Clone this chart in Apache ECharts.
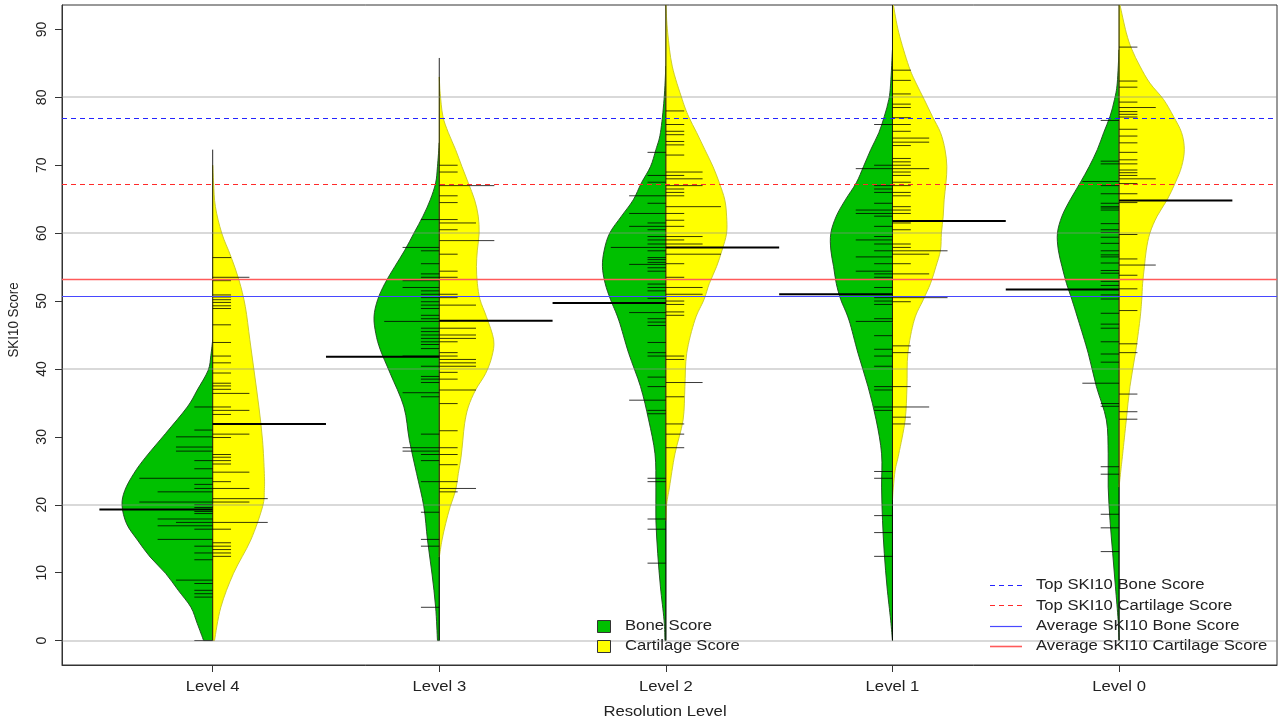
<!DOCTYPE html>
<html>
<head>
<meta charset="utf-8">
<script src="https://cdn.jsdelivr.net/npm/echarts@6/dist/echarts.min.js"></script>
<style>
html, body { margin: 0; padding: 0; background: #ffffff; }
#chart { width: 1279px; height: 724px; }
</style>
</head>
<body>
<div id="chart"></div>
<script>
// Categories and axis ticks
const levels = ['Level 4', 'Level 3', 'Level 2', 'Level 1', 'Level 0'];
const yTicks = [0, 10, 20, 30, 40, 50, 60, 70, 80, 90];
const gridValues = [0, 20, 40, 60, 80];

// Density profiles: [SKI10 score, density relative to the widest bean]
const densBone4 = [[0,0.10],[2.5,0.17],[4.9,0.24],[7.4,0.38],[9.9,0.52],[12.3,0.69],[14.8,0.83],[17.2,0.95],[19.9,1.00],[22.1,0.97],[24.6,0.87],[27.0,0.74],[30.5,0.52],[34.4,0.28],[36.9,0.17],[39.8,0.05],[42.0,0.02],[44.3,0]];
const densCart4 = [[0,0.02],[4.9,0.09],[9.9,0.23],[14.8,0.42],[19.7,0.55],[22.1,0.57],[24.6,0.57],[29.5,0.55],[34.4,0.51],[39.4,0.46],[44.3,0.41],[49.2,0.36],[53.1,0.29],[56.6,0.20],[60.0,0.10],[63.9,0.03],[67.4,0.01],[70.0,0]];
const densBone3 = [[0,0.02],[4.9,0.04],[9.8,0.08],[14.8,0.13],[19.7,0.17],[24.6,0.25],[29.5,0.33],[34.4,0.39],[39.3,0.54],[42.8,0.65],[45.2,0.70],[47.7,0.72],[50.2,0.68],[52.6,0.60],[55.1,0.49],[57.5,0.38],[60.0,0.28],[62.5,0.18],[64.9,0.10],[67.4,0.04],[69.8,0.02],[73.3,0]];
const densCart3 = [[12.3,0],[14.8,0.03],[17.2,0.07],[19.7,0.12],[22.1,0.18],[24.6,0.21],[27.0,0.24],[29.5,0.26],[32.0,0.28],[34.4,0.32],[36.9,0.40],[39.3,0.51],[41.8,0.58],[44.3,0.60],[47.7,0.52],[50.2,0.45],[52.6,0.42],[55.1,0.41],[57.5,0.42],[60.0,0.44],[62.5,0.43],[64.9,0.39],[67.4,0.32],[69.8,0.25],[72.3,0.18],[74.8,0.10],[77.2,0.04],[80.6,0.01],[83.0,0]];
const densBone2 = [[0,0.01],[3.0,0.02],[7.9,0.06],[12.8,0.09],[17.7,0.11],[22.6,0.11],[27.5,0.12],[32.5,0.19],[37.4,0.28],[42.3,0.41],[47.2,0.52],[50.2,0.61],[52.6,0.67],[55.1,0.70],[57.5,0.68],[60.0,0.62],[62.5,0.49],[64.9,0.36],[67.4,0.27],[69.8,0.17],[72.3,0.11],[74.8,0.06],[79.7,0.02],[84.6,0]];
const densCart2 = [[17.7,0],[20.2,0.01],[22.6,0.04],[27.5,0.10],[32.5,0.19],[37.4,0.21],[42.3,0.23],[47.2,0.32],[50.2,0.42],[52.6,0.48],[55.1,0.56],[57.5,0.62],[60.0,0.67],[62.5,0.67],[64.9,0.65],[67.4,0.59],[69.8,0.52],[72.3,0.43],[74.8,0.34],[77.2,0.25],[79.7,0.18],[84.6,0.07],[89.5,0.02],[93.6,0]];
const densBone1 = [[0,0],[3.0,0.02],[7.9,0.06],[12.8,0.09],[17.7,0.11],[22.6,0.12],[27.5,0.12],[32.5,0.18],[37.4,0.27],[42.3,0.38],[47.2,0.48],[50.2,0.57],[52.6,0.62],[55.1,0.65],[57.5,0.68],[60.0,0.68],[62.5,0.62],[64.9,0.52],[67.4,0.40],[69.8,0.32],[72.3,0.24],[74.8,0.15],[77.2,0.09],[79.7,0.04],[82.1,0.02],[87.0,0]];
const densCart1 = [[20.7,0],[22.6,0.01],[25.1,0.03],[27.5,0.07],[32.5,0.14],[37.4,0.16],[42.3,0.17],[47.2,0.24],[50.2,0.34],[52.6,0.42],[55.1,0.48],[57.5,0.53],[60.0,0.54],[62.5,0.56],[64.9,0.57],[67.4,0.59],[69.8,0.60],[72.3,0.58],[74.8,0.53],[77.2,0.44],[79.7,0.35],[82.1,0.26],[84.6,0.18],[89.5,0.07],[93.6,0.01]];
const densBone0 = [[0,0],[3.0,0.01],[7.9,0.04],[12.8,0.07],[17.7,0.10],[22.6,0.12],[27.5,0.12],[32.5,0.14],[37.4,0.25],[42.3,0.34],[47.2,0.45],[50.2,0.52],[52.6,0.58],[55.1,0.63],[57.5,0.67],[60.0,0.68],[62.5,0.63],[64.9,0.54],[67.4,0.43],[69.8,0.33],[72.3,0.24],[74.8,0.17],[77.2,0.10],[79.7,0.05],[82.1,0.02],[87.0,0]];
const densCart0 = [[22.6,0],[25.1,0.02],[27.5,0.04],[32.5,0.08],[37.4,0.12],[42.3,0.18],[47.2,0.23],[50.2,0.25],[52.6,0.26],[55.1,0.28],[57.5,0.30],[60.0,0.34],[62.5,0.42],[64.9,0.53],[67.4,0.62],[69.8,0.69],[72.3,0.72],[74.8,0.69],[77.2,0.60],[79.7,0.49],[82.1,0.34],[84.6,0.23],[87.1,0.14],[89.5,0.08],[93.6,0.01]];

// Individual scores (one entry per case; repeated scores stack into longer lines)
const obsBone4 = [34.4,31.0,30.0,30.0,28.5,28.5,27.9,27.9,26.5,25.3,23.9,23.9,23.9,23.9,23.0,22.4,21.9,21.9,21.9,20.4,20.4,20.4,20.4,20.0,19.6,19.0,18.7,17.9,17.9,17.9,17.4,17.4,16.9,16.9,16.9,16.4,14.9,14.9,14.9,13.9,12.9,11.9,8.9,8.9,8.4,7.4,6.9,6.4,0];
const obsCart4 = [56.4,53.5,53.5,53.0,50.9,50.6,50.2,49.8,49.3,48.9,46.5,43.9,41.9,40.9,39.4,37.9,37.5,37.0,36.4,36.4,34.4,33.9,33.9,33.3,31.9,30.4,30.4,29.9,27.4,27.0,26.5,26.0,24.8,24.8,23.4,22.4,22.4,20.9,20.9,20.9,20.4,20.4,17.4,17.4,17.4,16.4,14.4,13.9,13.4,12.9,12.4];
const obsBone3 = [62.0,57.9,57.9,57.4,55.5,54.0,53.5,53.0,53.0,52.0,52.0,51.5,51.0,50.5,49.9,49.4,48.9,47.9,47.4,47.0,47.0,47.0,46.0,45.5,45.0,44.5,44.0,43.6,43.0,41.9,41.9,40.4,38.9,38.5,38.0,36.5,36.5,35.9,30.4,28.4,28.4,27.9,27.9,27.4,26.5,23.4,18.9,14.9,13.9,4.9];
const obsCart3 = [70.0,69.0,67.0,67.0,67.0,65.5,64.5,62.0,61.5,61.5,60.5,58.9,58.9,58.9,56.9,54.4,53.5,51.0,50.5,49.4,49.4,47.1,46.0,46.0,45.0,45.0,44.5,44.5,44.0,42.4,41.9,41.4,41.4,40.9,40.9,40.4,40.4,39.5,38.5,36.9,36.9,34.9,30.9,28.4,27.4,25.9,23.4,22.4,22.4,21.9];
const obsBone2 = [71.9,68.5,67.5,65.5,65.5,64.4,62.9,62.9,61.5,61.0,61.0,60.5,59.5,59.0,58.4,57.9,57.9,57.9,57.4,56.4,56.1,55.7,55.4,55.4,54.9,54.4,52.5,52.0,51.5,50.4,49.7,48.3,48.3,47.4,46.9,46.4,43.9,42.4,41.9,38.8,37.4,35.4,35.4,33.9,33.4,23.9,23.4,17.9,16.4,11.4];
const obsCart2 = [78.0,76.0,75.0,74.5,73.5,73.0,71.5,69.0,69.0,68.5,68.0,68.0,67.0,67.0,66.5,66.0,65.5,63.9,63.9,63.9,62.9,61.9,61.0,59.5,59.5,59.0,58.4,58.4,56.9,56.9,56.9,55.5,53.5,52.0,52.0,51.0,51.0,50.0,49.5,48.4,47.9,41.9,41.4,38.0,38.0,35.9,31.9,30.4,28.4];
const obsBone1 = [76.0,70.0,69.5,69.5,67.0,66.5,66.0,64.4,63.4,63.4,62.9,62.9,62.5,61.0,59.5,59.0,59.0,58.4,57.4,56.5,56.5,55.5,54.4,54.4,54.0,53.5,52.0,50.5,50.0,49.5,47.4,47.0,47.0,44.9,42.9,41.9,40.4,37.4,36.9,34.4,33.9,24.9,23.9,18.4,15.9,12.4];
const obsCart1 = [84.0,82.5,80.5,79.0,78.5,77.0,76.0,75.0,74.0,74.0,73.4,73.4,72.9,71.0,70.5,70.0,69.5,69.5,69.0,68.5,67.5,67.0,66.0,65.5,63.9,63.4,62.9,61.8,61.5,60.5,58.4,57.9,57.4,57.4,57.4,56.9,56.9,55.5,54.0,54.0,50.5,50.5,50.5,49.9,43.4,42.4,37.4,34.4,34.4,32.9,31.9];
const obsBone0 = [76.6,70.6,70.2,67.6,67.6,67.0,65.8,64.4,63.9,63.7,63.4,61.4,60.5,60.1,59.4,58.5,57.4,56.8,56.5,55.6,54.5,54.1,52.9,52.3,50.9,50.3,48.2,46.6,46.0,44.0,42.2,41.0,37.9,37.9,34.9,34.5,25.6,24.5,18.6,16.6,13.1];
const obsCart0 = [87.4,82.4,81.5,79.3,78.5,78.5,77.9,77.5,77.1,75.3,74.3,73.3,71.9,70.8,70.2,69.3,68.9,68.5,68.0,68.0,67.3,65.8,64.8,64.5,59.8,56.2,55.3,55.3,53.8,51.8,48.6,43.7,42.4,36.3,33.7,32.6];

// Bean averages, by level
const meanBone = [19.3, 41.8, 49.7, 51.0, 51.7];
const meanCart = [31.9, 47.1, 57.9, 61.8, 64.8];
// Extent of each bean's outline along the score axis
const beanLow = [0, 0, 0, 0, 0];
const beanHigh = [72.3, 85.8, 93.6, 93.6, 93.6];

// Reference scores
const topBoneScore = 77.0;
const topCartScore = 67.3;
const avgBoneScore = 50.8;
const avgCartScore = 53.3;

const boneProfiles = [densBone4, densBone3, densBone2, densBone1, densBone0];
const cartProfiles = [densCart4, densCart3, densCart2, densCart1, densCart0];
const boneObs = [obsBone4, obsBone3, obsBone2, obsBone1, obsBone0];
const cartObs = [obsCart4, obsCart3, obsCart2, obsCart1, obsCart0];

const X_MIN = 0.335, X_MAX = 5.697;
const Y_MIN = -3.6, Y_MAX = 93.6;
const BEAN_HALF = 0.4;     // widest half-bean, in category units
const LINE_UNIT = 0.081;   // length of one score line
const MEAN_LEN = 0.5;      // length of the bean average line

const FONT = '"Liberation Sans", Arial, Helvetica, sans-serif';
const TEXT_FONT = '14px ' + FONT;
const WIDE = 1.19;         // horizontal text stretch
const TEXT = '#222222';
const GREEN = '#00c000';
const YELLOW = '#ffff00';

const REF_STYLES = {
  topBone: { stroke: '#2424ff', lineWidth: 1, lineDash: [5, 4] },
  topCart: { stroke: '#ff2a2a', lineWidth: 1, lineDash: [5, 4] },
  avgBone: { stroke: '#4848ff', lineWidth: 1.2 },
  avgCart: { stroke: '#ff5a5a', lineWidth: 1.6 }
};

function beanShape(api, pos, prof, side, fill, stroke) {
  const pts = prof.map(p => api.coord([pos + side * p[1] * BEAN_HALF, p[0]]));
  const a = api.coord([pos, prof[0][0]]);
  const b = api.coord([pos, prof[prof.length - 1][0]]);
  const f = v => v.toFixed(2);
  let d = 'M' + f(a[0]) + ' ' + f(a[1]) + ' L' + f(pts[0][0]) + ' ' + f(pts[0][1]);
  for (let i = 0; i < pts.length - 1; i++) {
    const p0 = pts[Math.max(i - 1, 0)], p1 = pts[i], p2 = pts[i + 1], p3 = pts[Math.min(i + 2, pts.length - 1)];
    const c1 = [p1[0] + (p2[0] - p0[0]) / 6, p1[1] + (p2[1] - p0[1]) / 6];
    const c2 = [p2[0] - (p3[0] - p1[0]) / 6, p2[1] - (p3[1] - p1[1]) / 6];
    d += ' C' + f(c1[0]) + ' ' + f(c1[1]) + ' ' + f(c2[0]) + ' ' + f(c2[1]) + ' ' + f(p2[0]) + ' ' + f(p2[1]);
  }
  d += ' L' + f(b[0]) + ' ' + f(b[1]) + ' Z';
  return { type: 'path', shape: { pathData: d }, style: { fill: fill, stroke: stroke, lineWidth: 1 } };
}

function scoreLines(api, pos, obs, side) {
  const counts = new Map();
  obs.forEach(v => counts.set(v, (counts.get(v) || 0) + 1));
  const out = [];
  counts.forEach((n, v) => {
    const p1 = api.coord([pos, v]);
    const p2 = api.coord([pos + side * n * LINE_UNIT, v]);
    out.push({ type: 'line', shape: { x1: p1[0], y1: p1[1], x2: p2[0], y2: p2[1] },
      style: { stroke: 'rgba(0,0,0,0.78)', lineWidth: 1 } });
  });
  return out;
}

function wideText(x, y, text, align) {
  return { type: 'text', x: x, y: y, scaleX: WIDE, z: 10,
    style: { text: text, font: TEXT_FONT, fill: TEXT, align: align || 'left', verticalAlign: 'middle' } };
}

function legendLine(y, st) {
  return { type: 'line', shape: { x1: 990, y1: y, x2: 1022, y2: y }, style: Object.assign({}, st), z: 10 };
}

const catData = levels.map((_, i) => [i + 1, 0]);

const option = {
  animation: false,
  backgroundColor: '#ffffff',
  grid: { left: 62, right: 2, top: 5, bottom: 59, show: true, borderColor: '#333333', borderWidth: 1, backgroundColor: 'transparent' },
  xAxis: {
    type: 'value', min: X_MIN, max: X_MAX,
    axisLine: { show: true, onZero: false, lineStyle: { color: '#333333' } },
    splitLine: { show: false },
    axisTick: { show: true, customValues: [1, 2, 3, 4, 5], length: 7, lineStyle: { color: '#333333' } },
    axisLabel: { show: false }
  },
  yAxis: {
    type: 'value', min: Y_MIN, max: Y_MAX,
    axisLine: { show: true, onZero: false, lineStyle: { color: '#333333' } },
    splitLine: { show: false },
    axisTick: { show: true, customValues: yTicks, length: 7, lineStyle: { color: '#333333' } },
    axisLabel: { customValues: yTicks, rotate: 90, margin: 13, fontSize: 14, color: TEXT, fontFamily: FONT }
  },
  series: [
    {
      name: 'Bone Score', type: 'custom', coordinateSystem: 'cartesian2d', z: 2, clip: true,
      data: catData,
      renderItem: (params, api) => beanShape(api, params.dataIndex + 1, boneProfiles[params.dataIndex], -1, GREEN, 'rgba(30,70,30,0.9)')
    },
    {
      name: 'Cartilage Score', type: 'custom', coordinateSystem: 'cartesian2d', z: 2, clip: true,
      data: catData,
      renderItem: (params, api) => beanShape(api, params.dataIndex + 1, cartProfiles[params.dataIndex], 1, YELLOW, 'rgba(200,200,40,0.9)')
    },
    {
      name: 'beanlines', type: 'custom', coordinateSystem: 'cartesian2d', z: 3, clip: true,
      data: catData,
      renderItem: (params, api) => {
        const i = params.dataIndex, pos = i + 1;
        const children = [];
        const lo = api.coord([pos, beanLow[i]]), hi = api.coord([pos, beanHigh[i]]);
        children.push({ type: 'line', shape: { x1: lo[0], y1: lo[1], x2: hi[0], y2: hi[1] },
          style: { stroke: 'rgba(0,0,0,0.85)', lineWidth: 1 } });
        scoreLines(api, pos, boneObs[i], -1).forEach(c => children.push(c));
        scoreLines(api, pos, cartObs[i], 1).forEach(c => children.push(c));
        const b1 = api.coord([pos, meanBone[i]]), b2 = api.coord([pos - MEAN_LEN, meanBone[i]]);
        const c1 = api.coord([pos, meanCart[i]]), c2 = api.coord([pos + MEAN_LEN, meanCart[i]]);
        children.push({ type: 'line', shape: { x1: b1[0], y1: b1[1], x2: b2[0], y2: b2[1] }, style: { stroke: '#000000', lineWidth: 2 } });
        children.push({ type: 'line', shape: { x1: c1[0], y1: c1[1], x2: c2[0], y2: c2[1] }, style: { stroke: '#000000', lineWidth: 2 } });
        return { type: 'group', children: children };
      }
    },
    {
      name: 'reference', type: 'custom', coordinateSystem: 'cartesian2d', z: 4, clip: true,
      data: [[1, 0]],
      renderItem: (params, api) => {
        const cs = params.coordSys;
        const x1 = cs.x, x2 = cs.x + cs.width;
        const children = [];
        gridValues.forEach(v => {
          const y = Math.round(api.coord([1, v])[1]);
          children.push({ type: 'line', shape: { x1, y1: y, x2, y2: y }, style: { stroke: 'rgba(140,140,140,0.33)', lineWidth: 2 } });
        });
        [[topBoneScore, REF_STYLES.topBone], [topCartScore, REF_STYLES.topCart],
         [avgBoneScore, REF_STYLES.avgBone], [avgCartScore, REF_STYLES.avgCart]].forEach(r => {
          const y = Math.round(api.coord([1, r[0]])[1]) + 0.5;
          children.push({ type: 'line', shape: { x1, y1: y, x2, y2: y }, style: Object.assign({}, r[1]) });
        });
        return { type: 'group', children: children };
      }
    },
    {
      // category labels under the axis
      name: 'categoryLabels', type: 'custom', coordinateSystem: 'cartesian2d', z: 5, clip: false, silent: true,
      data: catData,
      renderItem: (params, api) => {
        const p = api.coord([params.dataIndex + 1, Y_MIN]);
        return { type: 'text', x: p[0], y: p[1] + 22, scaleX: WIDE,
          style: { text: levels[params.dataIndex], font: TEXT_FONT, fill: TEXT, align: 'center', verticalAlign: 'middle' } };
      }
    }
  ],
  graphic: [
    { type: 'text', x: 14, y: 320, rotation: Math.PI / 2, scaleY: 1.1, z: 10,
      style: { text: 'SKI10 Score', font: '13.4px ' + FONT, fill: TEXT, align: 'center', verticalAlign: 'middle' } },
    wideText(665, 712, 'Resolution Level', 'center'),
    // fill legend
    { type: 'rect', shape: { x: 597.5, y: 620.5, width: 13, height: 12 }, style: { fill: GREEN, stroke: '#333333', lineWidth: 1 }, z: 10 },
    wideText(625, 626, 'Bone Score'),
    { type: 'rect', shape: { x: 597.5, y: 640.5, width: 13, height: 12 }, style: { fill: YELLOW, stroke: '#333333', lineWidth: 1 }, z: 10 },
    wideText(625, 646, 'Cartilage Score'),
    // reference legend
    legendLine(585.5, REF_STYLES.topBone),
    wideText(1036, 585, 'Top SKI10 Bone Score'),
    legendLine(605.5, REF_STYLES.topCart),
    wideText(1036, 606, 'Top SKI10 Cartilage Score'),
    legendLine(626.5, REF_STYLES.avgBone),
    wideText(1036, 626, 'Average SKI10 Bone Score'),
    legendLine(646.5, REF_STYLES.avgCart),
    wideText(1036, 646, 'Average SKI10 Cartilage Score')
  ]
};

const chart = echarts.init(document.getElementById('chart'), null, { renderer: 'canvas' });
chart.setOption(option);
</script>
</body>
</html>
